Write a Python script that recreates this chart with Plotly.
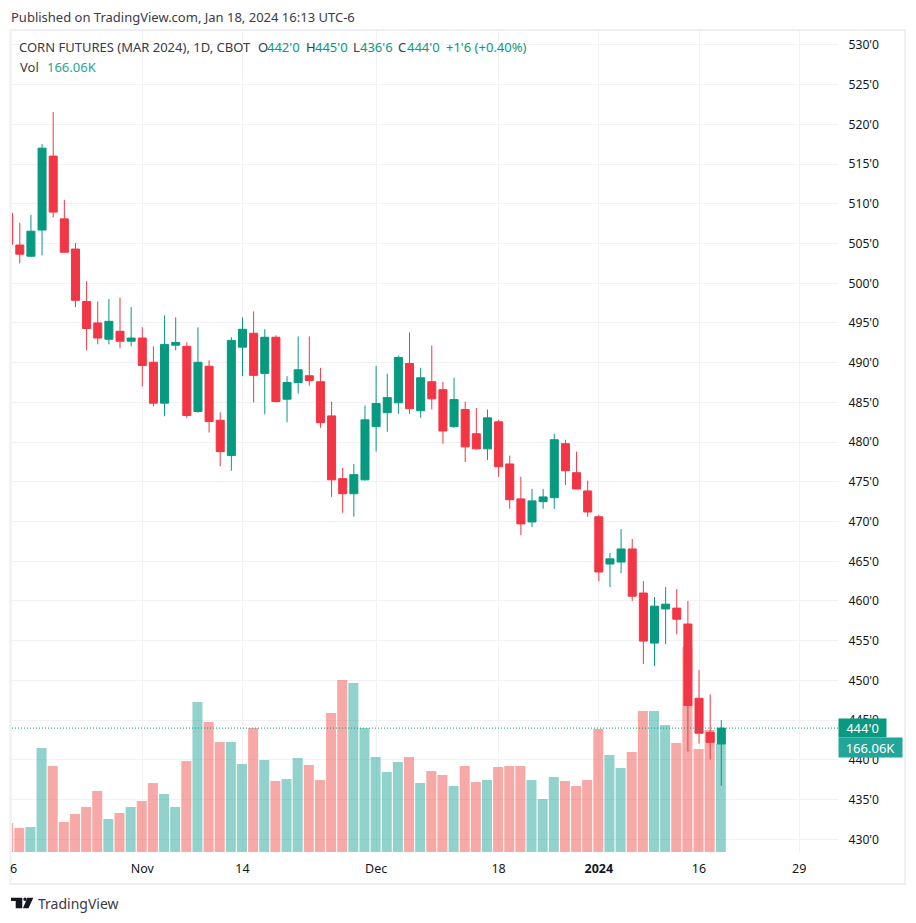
import pandas as pd
import plotly.graph_objects as go

# daily bars, Oct 16 2023 -> Jan 18 2024
holidays = ["2023-11-23", "2023-12-25", "2024-01-01", "2024-01-15"]
dates = pd.bdate_range("2023-10-16", "2024-01-18")
dates = dates[~dates.isin(pd.to_datetime(holidays))]
bar_index = list(range(len(dates)))

opens = [508.8, 504.8, 503.4, 506.7, 516.0, 508.1, 504.3, 497.7, 495.0, 492.95,
         493.95, 492.7, 493.1, 490.05, 484.9, 492.2, 492.05, 483.85, 489.55, 482.75,
         478.3, 491.95, 493.7, 488.65, 493.2, 485.4, 487.5, 488.35, 487.6, 483.3,
         475.4, 473.5, 475.25, 481.95, 483.7, 484.95, 489.9, 483.95, 487.6, 486.6,
         481.95, 484.1, 481.05, 479.15, 482.55, 477.25, 472.85, 469.95, 472.5, 473.0,
         479.8, 476.15, 473.85, 470.6, 464.65, 464.9, 466.55, 461.0, 454.7, 459.0,
         459.1, 457.1, 447.75, 443.45, 442.0]
highs = [509.0, 507.6, 508.6, 517.5, 521.55, 510.5, 505.05, 500.25, 497.7, 498.0,
         498.2, 497.0, 494.45, 492.05, 495.95, 495.7, 492.55, 494.45, 490.3, 483.75,
         493.2, 495.7, 496.45, 494.2, 493.45, 488.3, 493.3, 493.3, 489.35, 485.1,
         476.75, 477.25, 484.6, 489.6, 488.6, 490.9, 493.8, 489.35, 492.15, 487.6,
         488.1, 485.1, 484.3, 484.1, 482.8, 478.3, 475.65, 474.1, 474.1, 481.05,
         480.3, 478.8, 475.15, 470.85, 466.05, 469.05, 467.8, 462.5, 460.5, 461.75,
         461.5, 460.0, 451.3, 448.25, 445.0]
lows = [504.5, 502.5, 503.3, 503.5, 508.3, 503.9, 497.0, 491.55, 492.3, 492.3,
        491.8, 492.05, 487.0, 484.5, 483.25, 491.55, 483.0, 483.7, 481.2, 476.95,
        476.4, 488.3, 485.0, 483.5, 485.0, 482.5, 486.1, 487.1, 481.8, 473.1,
        471.1, 470.6, 475.15, 478.8, 481.3, 483.55, 483.55, 483.05, 484.1, 479.8,
        481.8, 477.5, 479.05, 477.75, 475.65, 471.6, 468.3, 469.3, 471.6, 471.6,
        474.6, 474.05, 470.6, 462.5, 461.75, 463.5, 460.0, 452.05, 451.8, 454.55,
        455.8, 441.05, 442.05, 440.05, 436.75]
closes = [504.9, 503.65, 506.55, 517.0, 508.95, 503.9, 497.85, 494.3, 493.1, 495.2,
          492.7, 493.1, 489.65, 484.9, 492.3, 492.55, 483.35, 490.05, 482.6, 478.8,
          492.8, 494.2, 488.4, 493.2, 485.1, 487.5, 489.1, 487.75, 482.45, 475.25,
          473.5, 475.9, 482.8, 484.85, 485.6, 490.65, 484.2, 488.1, 485.45, 481.4,
          485.35, 479.4, 479.15, 483.05, 476.9, 472.75, 469.7, 472.6, 473.1, 480.3,
          476.4, 474.1, 471.2, 463.65, 465.3, 466.55, 460.6, 454.95, 459.35, 459.6,
          457.7, 446.85, 443.35, 442.2, 444.0]
volumes_k = [44.6, 36.9, 38.4, 159.9, 132.2, 46.1, 58.4, 69.2, 93.8, 50.7,
             60.0, 69.2, 78.4, 106.1, 89.2, 69.2, 139.9, 230.6, 199.9, 169.1,
             169.1, 135.3, 190.7, 141.5, 109.2, 112.2, 144.5, 133.8, 110.7, 213.7,
             264.5, 259.9, 190.7, 146.1, 123.0, 138.4, 146.1, 106.1, 124.5, 118.4,
             101.5, 132.2, 107.6, 110.7, 130.7, 132.2, 132.2, 110.7, 81.5, 115.3,
             109.2, 101.5, 110.7, 189.1, 149.1, 129.2, 153.8, 216.8, 216.8, 195.3,
             167.6, 315.2, 158.4, 187.6, 166.06]

price_ticks = [430, 435, 440, 445, 450, 455, 460, 465, 470, 475, 480, 485, 490,
               495, 500, 505, 510, 515, 520, 525, 530]
price_labels = [f"{p}'0" for p in price_ticks]
time_tick_index = [12, 21, 33, 44, 53, 62, 71]
time_tick_labels = ["Nov", "14", "Dec", "18", "<b>2024</b>", "16", "29"]

UP = "#089981"
DOWN = "#F23645"
UP_VOL = "rgba(38,166,154,0.5)"
DOWN_VOL = "rgba(239,83,80,0.5)"
GRID = "#F2F2F5"
FRAME = "#EEEEF3"
TEXT = "#3B3B44"
FONT = "Noto Sans"

W, H = 916, 923
vol_colors = [UP_VOL if c > o else DOWN_VOL for o, c in zip(opens, closes)]

fig = go.Figure()
fig.add_trace(go.Scatter(x=[], y=[], showlegend=False))  # keeps the base axis for the price grid
# volume columns sit a pixel wider to the left of the candle bodies
fig.add_trace(go.Bar(x=bar_index, y=volumes_k, marker_color=vol_colors, marker_line_width=0,
                     width=0.9, offset=-0.495, yaxis="y2", showlegend=False))
fig.add_trace(go.Candlestick(
    x=bar_index, open=opens, high=highs, low=lows, close=closes, yaxis="y3",
    increasing=dict(line=dict(color=UP, width=1), fillcolor=UP),
    decreasing=dict(line=dict(color=DOWN, width=1), fillcolor=DOWN),
    whiskerwidth=0, showlegend=False,
))

fig.update_layout(
    width=W, height=H, margin=dict(l=12, r=78, t=31, b=71, autoexpand=False),
    paper_bgcolor="white", plot_bgcolor="white", showlegend=False,
    boxgap=0.28, boxgroupgap=0,
    font=dict(family=FONT, size=12, color=TEXT),
    xaxis=dict(range=[0.30, 74.48], tickmode="array", tickvals=time_tick_index,
               ticktext=time_tick_labels, showgrid=True, gridcolor=GRID, gridwidth=1,
               zeroline=False, showline=False, ticks="outside", ticklen=5,
               tickcolor="rgba(0,0,0,0)", rangeslider=dict(visible=False),
               tickfont=dict(size=12.5, color="#131722")),
    yaxis=dict(range=[428.4, 531.75], side="right", tickmode="array", tickvals=price_ticks,
               ticktext=price_labels, showgrid=True, gridcolor=GRID, gridwidth=1,
               zeroline=False, showline=False, ticks="outside", ticklen=7,
               tickcolor="rgba(0,0,0,0)", tickfont=dict(size=12.2, color="#131722")),
    yaxis2=dict(range=[0, 1262.4], overlaying="y", visible=False, showgrid=False, zeroline=False),
    yaxis3=dict(range=[428.4, 531.75], overlaying="y", visible=False, showgrid=False, zeroline=False),
)

# last price line and the two labels on the scale
fig.add_shape(type="line", xref="paper", x0=0, x1=1, yref="y", y0=closes[-1], y1=closes[-1],
              line=dict(color=UP, width=1, dash="1px,2px"))
fig.add_annotation(xref="paper", x=1, xanchor="left", yref="y", y=closes[-1],
                   text=f"{int(closes[-1])}'0", showarrow=False, width=45, height=16,
                   bgcolor=UP, align="center", font=dict(color="white", size=13))
fig.add_annotation(xref="paper", x=1, xanchor="left", yref="y2", y=volumes_k[-1], yshift=-3.5,
                   text=f"{volumes_k[-1]}K", showarrow=False, width=61, height=17,
                   bgcolor="#22A699", align="center", font=dict(color="white", size=13))


def page_x(x):
    return (x - 12) / 826


def page_y(y):
    return (852 - y) / 821


# outer frame, in page pixels
fig.add_shape(type="rect", xref="paper", yref="paper", x0=page_x(10.5), x1=page_x(905),
              y0=page_y(884), y1=page_y(30), line=dict(color=FRAME, width=2), layer="below")


def px_note(x, y, text, color=TEXT, size=13):
    # annotations sit about 2px right of their anchor
    fig.add_annotation(xref="paper", yref="paper", x=page_x(x - 2), y=page_y(y), text=text,
                       showarrow=False, xanchor="left", yanchor="middle",
                       font=dict(size=size, color=color))


px_note(11, 17, "Published on TradingView.com, Jan 18, 2024 16:13 UTC-6")
legend_parts = [(19, "CORN FUTURES (MAR 2024), 1D, CBOT", TEXT), (258, "O", TEXT), (267, "442'0", UP),
                (306, "H", TEXT), (315, "445'0", UP), (353, "L", TEXT), (360, "436'6", UP),
                (398, "C", TEXT), (407, "444'0", UP), (446, "+1'6 (+0.40%)", UP)]
for part_x, part_text, part_color in legend_parts:
    px_note(part_x, 47, part_text, part_color)
px_note(20, 67, "Vol")
px_note(47, 67, "166.06K", "#26A69A")
px_note(10, 868, "6", "#131722", 12.5)
px_note(38, 903, "TradingView", TEXT, 14)

# TradingView mark next to the wordmark
logo_paths = [
    [(11, 897.7), (22.3, 897.7), (22.3, 908.3), (15.7, 908.3), (15.7, 901), (11, 901)],
    [(27.3, 897.7), (33.3, 897.7), (28.5, 908.3), (23, 908.3)],
]
for pts in logo_paths:
    path = "M " + " L ".join(f"{page_x(px):.5f},{page_y(py):.5f}" for px, py in pts) + " Z"
    fig.add_shape(type="path", xref="paper", yref="paper", path=path,
                  fillcolor="#131722", line_width=0)
fig.add_shape(type="circle", xref="paper", yref="paper", x0=page_x(23.3), x1=page_x(26.7),
              y0=page_y(901), y1=page_y(897.6), fillcolor="#131722", line_width=0)

fig.write_html("out.html", config=dict(displayModeBar=False),
               post_script="document.body.style.margin='0';")
